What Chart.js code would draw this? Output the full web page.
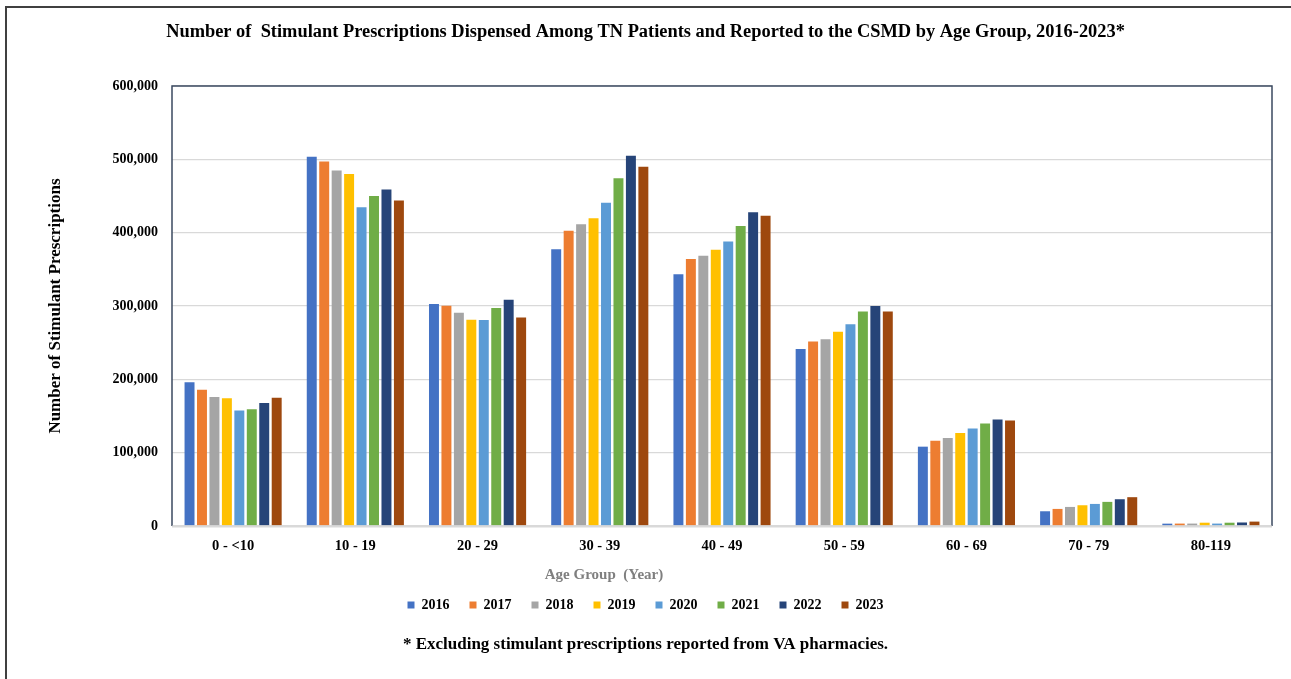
<!DOCTYPE html>
<html>
<head>
<meta charset="utf-8">
<script src="https://cdn.jsdelivr.net/npm/chart.js@4.4.1/dist/chart.umd.min.js"></script>
<style>
  html, body { margin: 0; padding: 0; background: #ffffff; }
  #wrap { position: relative; width: 1291px; height: 679px; }
</style>
</head>
<body>
<div id="wrap"><canvas id="c"></canvas></div>
<script>
const categories = ['0 - <10', '10 - 19', '20 - 29', '30 - 39', '40 - 49', '50 - 59', '60 - 69', '70 - 79', '80-119'];
const years = ['2016', '2017', '2018', '2019', '2020', '2021', '2022', '2023'];
const v2016 = [196000, 503600, 302700, 377600, 343400, 241500, 108200, 20100, 3200];
const v2017 = [185900, 497000, 300500, 402700, 364000, 251600, 116400, 23300, 3300];
const v2018 = [175800, 485000, 290800, 411400, 368500, 254800, 120000, 26000, 3300];
const v2019 = [174400, 480000, 281200, 419600, 376700, 264800, 127000, 28300, 4500];
const v2020 = [157500, 434700, 281000, 441000, 388000, 275300, 132900, 30100, 3300];
const v2021 = [159400, 450000, 297300, 474400, 409000, 292700, 139700, 32900, 4500];
const v2022 = [167600, 459000, 308700, 505000, 427800, 300000, 145200, 36500, 4800];
const v2023 = [174900, 443800, 284500, 490000, 423300, 292700, 143800, 39300, 6000];
const yTicks = [0, 100000, 200000, 300000, 400000, 500000, 600000];
const titleText = 'Number of  Stimulant Prescriptions Dispensed Among TN Patients and Reported to the CSMD by Age Group, 2016-2023*';
const yTitle = 'Number of Stimulant Prescriptions';
const xTitle = 'Age Group  (Year)';
const footnote = '* Excluding stimulant prescriptions reported from VA pharmacies.';

const seriesValues = [v2016, v2017, v2018, v2019, v2020, v2021, v2022, v2023];
const colors = ['#4472C4', '#ED7D31', '#A5A5A5', '#FFC000', '#5B9BD5', '#70AD47', '#264478', '#9E480E'];
const SERIF = '"Liberation Serif", "DejaVu Serif", serif';

const decor = {
  id: 'decor',
  beforeDraw(chart) {
    const ctx = chart.ctx;
    ctx.save();
    ctx.fillStyle = '#ffffff';
    ctx.fillRect(0, 0, chart.width, chart.height);
    ctx.strokeStyle = '#404040';
    ctx.lineWidth = 2;
    ctx.beginPath();
    ctx.moveTo(6, chart.height);
    ctx.lineTo(6, 7);
    ctx.lineTo(chart.width, 7);
    ctx.stroke();
    ctx.restore();
  },
  afterDraw(chart) {
    const ctx = chart.ctx;
    const a = chart.chartArea;
    ctx.save();
    ctx.strokeStyle = '#3B4A60';
    ctx.lineWidth = 1.5;
    ctx.beginPath();
    ctx.moveTo(a.left, a.bottom);
    ctx.lineTo(a.left, a.top);
    ctx.lineTo(a.right, a.top);
    ctx.lineTo(a.right, a.bottom);
    ctx.stroke();
    ctx.strokeStyle = '#D9D9D9';
    ctx.lineWidth = 2;
    ctx.beginPath();
    ctx.moveTo(a.left, a.bottom + 0.5);
    ctx.lineTo(a.right, a.bottom + 0.5);
    ctx.stroke();
    ctx.fillStyle = '#7F7F7F';
    ctx.font = 'bold 15px ' + SERIF;
    ctx.textAlign = 'center';
    ctx.textBaseline = 'middle';
    ctx.fillText(xTitle, 604, 575);
    ctx.restore();
  }
};

new Chart(document.getElementById('c'), {
  type: 'bar',
  data: {
    labels: categories,
    datasets: years.map((y, i) => ({
      label: y,
      data: seriesValues[i],
      backgroundColor: colors[i],
      borderWidth: 0,
      barPercentage: 0.8,
      categoryPercentage: 0.815
    }))
  },
  plugins: [decor],
  options: {
    responsive: true,
    maintainAspectRatio: false,
    animation: false,
    devicePixelRatio: 1,
    layout: { padding: { left: 0, right: 0, top: 0, bottom: 10 } },
    plugins: {
      title: {
        display: true,
        text: titleText,
        color: '#000000',
        font: { family: SERIF, size: 18.4, weight: 'bold' },
        padding: { top: 21, bottom: 43 }
      },
      subtitle: {
        display: true,
        position: 'bottom',
        text: footnote,
        color: '#000000',
        font: { family: SERIF, size: 17, weight: 'bold' },
        padding: { top: 12.8, bottom: 13.8 }
      },
      legend: {
        display: true,
        position: 'bottom',
        labels: {
          color: '#000000',
          font: { family: SERIF, size: 14, weight: 'bold' },
          boxWidth: 7,
          boxHeight: 7,
          padding: 20
        }
      },
      tooltip: { enabled: false }
    },
    scales: {
      x: {
        grid: { display: false, drawTicks: false },
        border: { display: false },
        ticks: {
          color: '#000000',
          font: { family: SERIF, size: 14.5, weight: 'bold' },
          padding: 12,
          maxRotation: 0
        },
        afterFit(scale) { scale.height = 52; }
      },
      y: {
        min: 0,
        max: 600000,
        grid: { color: '#D9D9D9', lineWidth: 1.3, drawTicks: false },
        border: { display: false },
        afterBuildTicks(scale) { scale.ticks = yTicks.map(v => ({ value: v })); },
        ticks: {
          color: '#000000',
          font: { family: SERIF, size: 14, weight: 'bold' },
          padding: 14,
          callback: (v) => Number(v).toLocaleString('en-US')
        },
        title: {
          display: true,
          text: yTitle,
          color: '#000000',
          font: { family: SERIF, size: 17, weight: 'bold' },
          padding: { top: 45, bottom: 0 }
        },
        afterFit(scale) { scale.width = 172; }
      },
      yRight: {
        position: 'right',
        min: 0,
        max: 600000,
        grid: { display: false, drawTicks: false },
        border: { display: false },
        ticks: { display: false },
        afterFit(scale) { scale.width = 19; }
      }
    }
  }
});
</script>
</body>
</html>
